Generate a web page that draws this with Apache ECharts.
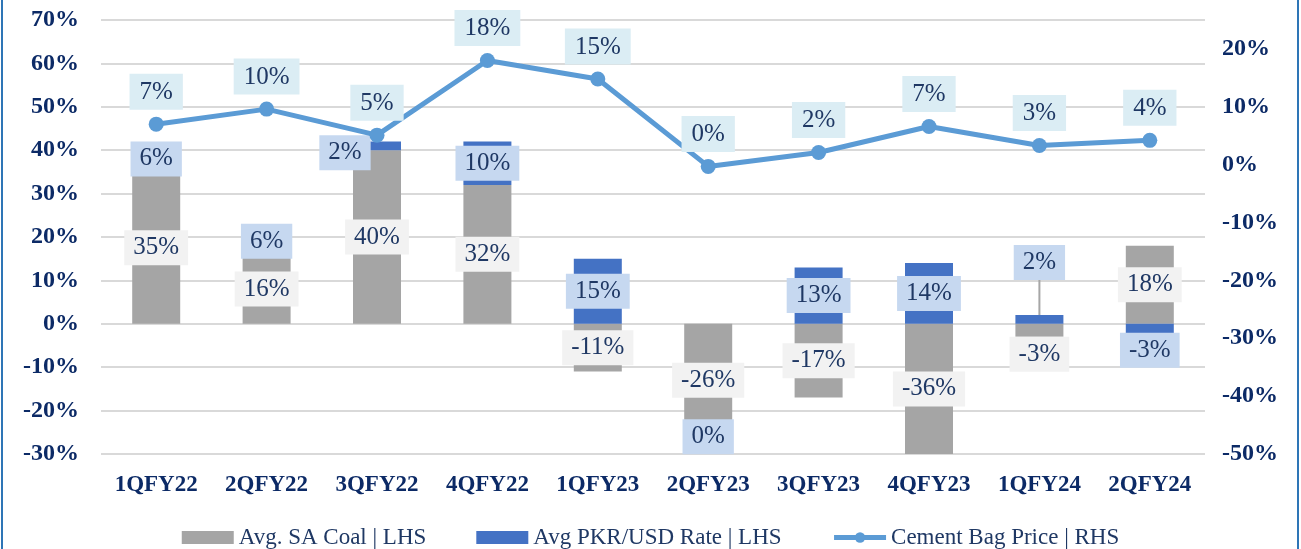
<!DOCTYPE html>
<html><head><meta charset="utf-8">
<script src="https://cdn.jsdelivr.net/npm/echarts@6/dist/echarts.min.js"></script>
<style>
html,body{margin:0;padding:0;background:#fff;overflow:hidden}
#c{position:absolute;left:0;top:0;width:1301px;height:549px}
#frame{position:absolute;left:1px;top:-10px;width:1294px;height:580px;border-left:2px solid #2e75b6;border-right:2px solid #2e75b6;pointer-events:none}
</style></head><body><div id="c"></div><div id="frame"></div>
<script>
const categories = ['1QFY22','2QFY22','3QFY22','4QFY22','1QFY23','2QFY23','3QFY23','4QFY23','1QFY24','2QFY24'];
const coalChange = [35, 16, 40, 32, -11, -26, -17, -36, -3, 18];
const pkrChange = [6, 6, 2, 10, 15, 0, 13, 14, 2, -3];
const cementChange = [7.0, 9.6, 5.1, 18.0, 14.8, -0.3, 2.1, 6.6, 3.3, 4.2];
const leftAxisRange = [-30, 70];
const rightAxisRange = [-50, 25];
const seriesNames = ['Avg. SA Coal | LHS', 'Avg PKR/USD Rate | LHS', 'Cement Bag Price | RHS'];

const FONT = 'Liberation Serif';
const NAVY = '#0c2a66';
const LBL = '#1f3864';
const fmtPct = v => `${Math.round(v)}%`;

// Excel stacks a zero value on top of the running (negative) total
const pkrPlot = pkrChange.map((v, i) => ({
  value: (v === 0 && coalChange[i] < 0) ? -1e-9 : v,
  labelLine: i === 8 ? {show: true, lineStyle: {color: '#a6a6a6', width: 2}} : {show: false}
}));

const chart = echarts.init(document.getElementById('c'));
const labelBase = {
  show: true, fontFamily: FONT, fontSize: 25, color: LBL,
  padding: [6, 9, 4, 9]
};
const pkrLabelMoves = {2: {dx: -32, dy: 7}, 8: {dy: -57}, 9: {dy: 20}};
chart.setOption({
  animation: false,
  textStyle: {fontFamily: FONT},
  grid: {left: 101, right: 96, top: 20, bottom: 95},
  legend: {
    top: 521, left: 'center',
    itemWidth: 52, itemHeight: 13, itemGap: 50,
    textStyle: {fontFamily: FONT, fontSize: 23, color: LBL},
    data: [
      {name: seriesNames[0], icon: 'rect'},
      {name: seriesNames[1], icon: 'rect'},
      {name: seriesNames[2], lineStyle: {width: 5, color: '#5b9bd5'}, itemStyle: {color: '#5b9bd5'}}
    ]
  },
  xAxis: {
    type: 'category', data: categories,
    axisLine: {show: false}, axisTick: {show: false},
    axisLabel: {fontFamily: FONT, fontSize: 23, fontWeight: 'bold', color: NAVY, margin: 20}
  },
  yAxis: [
    {
      type: 'value', min: leftAxisRange[0], max: leftAxisRange[1], interval: 10,
      axisLine: {show: false}, axisTick: {show: false},
      splitLine: {lineStyle: {color: '#d9d9d9', width: 2}},
      axisLabel: {fontFamily: FONT, fontSize: 24, fontWeight: 'bold', color: NAVY, margin: 22,
        formatter: v => `${v}%`}
    },
    {
      type: 'value', min: rightAxisRange[0], max: rightAxisRange[1], interval: 10,
      axisLine: {show: false}, axisTick: {show: false}, splitLine: {show: false},
      axisLabel: {fontFamily: FONT, fontSize: 24, fontWeight: 'bold', color: NAVY, margin: 17,
        formatter: v => (Math.abs(v % 10) < 1e-6 ? `${v}%` : '')}
    }
  ],
  series: [
    {
      name: seriesNames[0], type: 'bar', stack: 'lhs', yAxisIndex: 0, barWidth: 48,
      data: coalChange,
      itemStyle: {color: '#a5a5a5'},
      label: Object.assign({}, labelBase, {position: 'inside', backgroundColor: '#f2f2f2',
        formatter: p => fmtPct(coalChange[p.dataIndex])}),
      labelLayout: p => (p.dataIndex === 8 ? {dy: 24} : {}),
      z: 2
    },
    {
      name: seriesNames[1], type: 'bar', stack: 'lhs', yAxisIndex: 0, barWidth: 48,
      data: pkrPlot,
      itemStyle: {color: '#4472c4'},
      label: Object.assign({}, labelBase, {position: 'inside', backgroundColor: '#c6d8f0',
        formatter: p => fmtPct(pkrChange[p.dataIndex])}),
      labelLayout: p => pkrLabelMoves[p.dataIndex] || {},
      z: 2
    },
    {
      name: seriesNames[2], type: 'line', yAxisIndex: 1,
      data: cementChange,
      symbol: 'circle', symbolSize: 15,
      lineStyle: {color: '#5b9bd5', width: 5},
      itemStyle: {color: '#5b9bd5'},
      label: Object.assign({}, labelBase, {position: 'top', distance: 7, backgroundColor: '#dbedf4',
        padding: [6, 10, 5, 10], formatter: p => fmtPct(p.value)}),
      z: 3
    }
  ]
});
</script></body></html>
